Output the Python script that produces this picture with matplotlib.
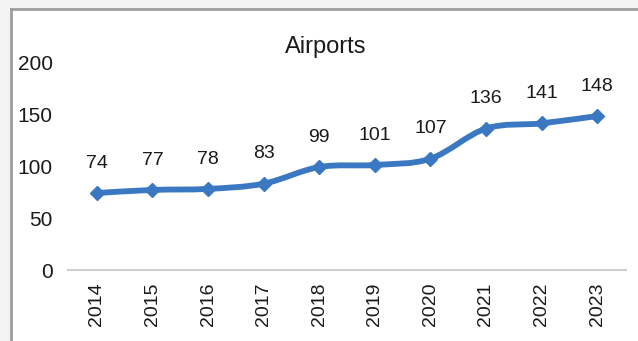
import matplotlib
matplotlib.use("Agg")
import matplotlib.pyplot as plt
from matplotlib.patches import Rectangle, PathPatch
from matplotlib.path import Path

years = ["2014", "2015", "2016", "2017", "2018",
         "2019", "2020", "2021", "2022", "2023"]
airports = [74, 77, 78, 83, 99, 101, 107, 136, 141, 148]
y_ticks = [0, 50, 100, 150, 200]

W, H = 638, 341
LINE_BLUE = "#3a78c2"
TEXT = "#1a1a1a"

plt.rcParams["font.family"] = ["Liberation Sans", "DejaVu Sans"]


def smooth_path(xs, ys, k=1 / 6):
    """Bezier path through every point (Catmull-Rom style smoothing)."""
    pts = list(zip(xs, ys))
    verts = [pts[0]]
    codes = [Path.MOVETO]
    for i in range(len(pts) - 1):
        p0 = pts[max(i - 1, 0)]
        p1 = pts[i]
        p2 = pts[i + 1]
        p3 = pts[min(i + 2, len(pts) - 1)]
        c1 = (p1[0] + (p2[0] - p0[0]) * k, p1[1] + (p2[1] - p0[1]) * k)
        c2 = (p2[0] - (p3[0] - p1[0]) * k, p2[1] - (p3[1] - p1[1]) * k)
        verts += [c1, c2, p2]
        codes += [Path.CURVE4] * 3
    return Path(verts, codes)


fig = plt.figure(figsize=(W / 100, H / 100), dpi=100)
fig.patch.set_facecolor("#f3f3f3")

# white chart panel with a grey edge on the left and top
panel = Rectangle((11 / W, 0), 1 - 11 / W, 1 - 9 / H, transform=fig.transFigure,
                  facecolor="white", edgecolor="none", zorder=-2)
fig.add_artist(panel)
fig.add_artist(plt.Line2D([11 / W, 11 / W], [0, 1 - 9 / H],
                          transform=fig.transFigure, color="#9e9e9e", lw=2,
                          zorder=-1))
fig.add_artist(plt.Line2D([11 / W, 1], [1 - 9 / H, 1 - 9 / H],
                          transform=fig.transFigure, color="#9e9e9e", lw=2,
                          zorder=-1))

left, right = 68 / W, 626 / W
bottom, top = 1 - 270 / H, 1 - 62 / H
ax = fig.add_axes([left, bottom, right - left, top - bottom])
ax.set_facecolor("none")
ax.set_zorder(1)

x = list(range(len(years)))
ax.add_patch(PathPatch(smooth_path(x, airports), facecolor="none",
                       edgecolor=LINE_BLUE, lw=4.2, capstyle="round",
                       joinstyle="round", clip_on=False))
ax.plot(x, airports, ls="none", marker="D", markersize=7.5,
        markerfacecolor=LINE_BLUE, markeredgecolor=LINE_BLUE, clip_on=False)

for xi, v in zip(x, airports):
    ax.annotate(str(v), (xi, v), xytext=(0, 21.5), textcoords="offset points",
                ha="center", va="center", fontsize=14, color=TEXT)

ax.set_xlim(-0.52, len(years) - 0.48)
ax.set_ylim(0, 200)
ax.set_yticks(y_ticks)
ax.set_yticklabels([str(t) for t in y_ticks], fontsize=15, color=TEXT)
ax.set_xticks(x)
ax.set_xticklabels(years, rotation=90, fontsize=14, color=TEXT)
ax.tick_params(axis="both", length=0)
ax.tick_params(axis="x", pad=9)
ax.tick_params(axis="y", pad=11)

for side in ("left", "right", "top"):
    ax.spines[side].set_visible(False)
ax.spines["bottom"].set_color("#d0d0d0")
ax.spines["bottom"].set_linewidth(1.5)

fig.text(326 / W, 1 - 47 / H, "Airports", ha="center", va="center",
         fontsize=17, color=TEXT)

fig.savefig("out.png", dpi=100, facecolor=fig.get_facecolor())
